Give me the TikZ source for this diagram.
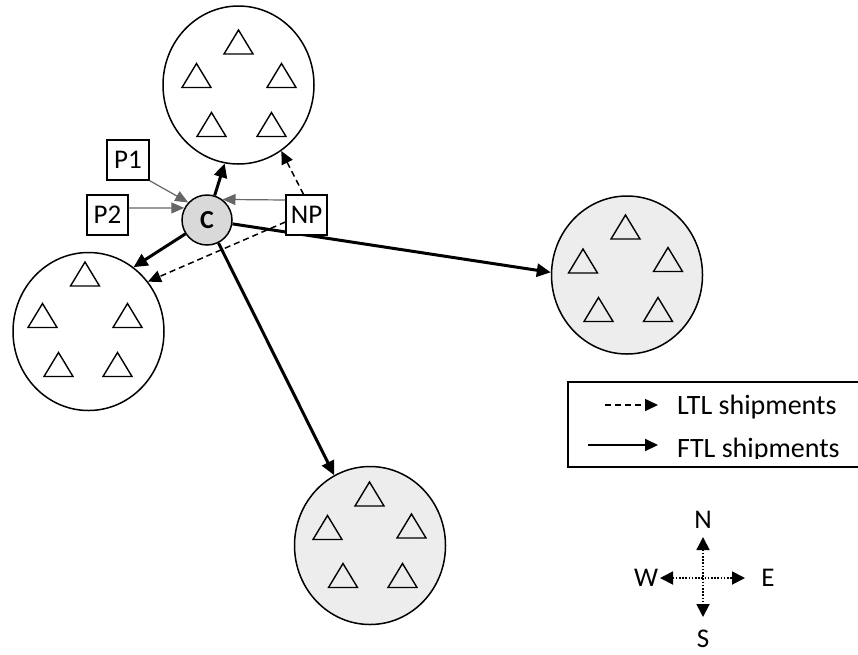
\documentclass[tikz,border=0pt]{standalone}
\usepackage{fontspec}
\setmainfont{Carlito}
\usetikzlibrary{arrows.meta,shapes.geometric}
\newcommand\mytri[2]{\draw[trishape, shift={(#1,#2)}] (-14.5,12) -- (0,-12) -- (14.5,12) -- cycle;}
\begin{document}
\begin{tikzpicture}[x=1pt,y=-1pt,
  cluster/.style={ellipse, draw, line width=1.5pt, minimum width=151pt, minimum height=158pt, inner sep=0pt},
  plainclus/.style={cluster, fill=white},
  shadedclus/.style={cluster, fill=black!7},
  trishape/.style={line width=1.4pt, line join=miter},
  txt/.style={font=\fontsize{27}{32}\selectfont, inner sep=0pt},
  labbox/.style={draw, line width=1.3pt, fill=white, font=\fontsize{27}{32}\selectfont, minimum width=41pt, minimum height=40pt, inner sep=0pt},
  ftl/.style={line width=3pt, -{Triangle[length=14pt,width=13pt]}},
  ltl/.style={line width=1.5pt, dash pattern=on 6pt off 4pt, -{Triangle[length=13pt,width=12pt]}},
  feed/.style={line width=1.2pt, draw=black!60, -{Triangle[length=13pt,width=11pt]}, color=black!60},
  compass/.style={line width=1.8pt, dash pattern=on 1.6pt off 1.6pt, {Triangle[length=13pt,width=13pt]}-{Triangle[length=13pt,width=13pt]}}
]
\clip (0,0) rectangle (858,654);
\fill[white] (0,0) rectangle (858,654);

% clusters
\node[plainclus] (nclus) at (238.5,85) {};
\node[plainclus] (wclus) at (88.5,331.5) {};
\node[shadedclus] (eclus) at (627,275) {};
\node[shadedclus] (sclus) at (370,545.5) {};

% triangles
\mytri{238.5}{42}\mytri{196.5}{75.5}\mytri{281.5}{75.5}\mytri{211.5}{124.5}\mytri{271.5}{124.5}
\mytri{85}{274}\mytri{42.5}{315.5}\mytri{127.5}{315.5}\mytri{58.5}{364.5}\mytri{117.5}{364.5}
\mytri{625.5}{227}\mytri{583}{261}\mytri{668}{259.5}\mytri{598.5}{309.5}\mytri{658}{309.5}
\mytri{369.5}{494}\mytri{327.5}{527.5}\mytri{411.5}{526}\mytri{343}{575.5}\mytri{402.5}{575.5}

% center
\node[circle, draw, line width=1.5pt, fill=black!15, minimum size=50pt, inner sep=0pt,
      font=\bfseries\fontsize{26}{30}\selectfont] (C) at (207,220) {C};
\node[labbox, minimum width=42pt] (P1) at (128,160) {P1};
\node[labbox] (P2) at (107.5,215) {P2};

\draw[ftl] (C) -- (eclus.178);
\node[labbox] (NP) at (306.5,215) {NP};

\draw[ftl] (C) -- (nclus.-100);
\draw[ftl] (C) -- (wclus.55);
\draw[ftl] (C) -- (sclus.117);

\draw[feed] (P1.south east) -- (C.137);
\draw[feed] ([yshift=7pt]P2.east) -- (C.152);
\draw[feed] ([yshift=15pt]NP.west) -- (C.53);

\draw[ltl] ([xshift=-3pt]NP.north) -- (nclus.-57);
\draw[ltl] ([yshift=-7pt]NP.west) -- (wclus.40);

% legend
\node[draw, line width=1.5pt, minimum width=292pt, minimum height=85pt, inner sep=0pt] (leg) at (714,424.5) {};
\coordinate (l1a) at (605,405); \coordinate (l1b) at (658,405);
\draw[ltl] (l1a) -- (l1b);
\node[txt, font=\fontsize{28}{32}\selectfont, anchor=base west] (l1t) at (677,414) {LTL shipments};
\coordinate (l2a) at (588,445); \coordinate (l2b) at (658,445);
\draw[line width=2pt, -{Triangle[length=13pt,width=12pt]}] (l2a) -- (l2b);
\begin{scope}
  \clip ([yshift=9.5pt]leg.south west) rectangle (leg.north east);
  \node[txt, font=\fontsize{28}{32}\selectfont, anchor=base west] (l2t) at (677,457) {FTL shipments};
\end{scope}

% compass
\node[txt, anchor=base] (cN) at (703,528) {N};
\node[txt, anchor=base] (cS) at (703,647) {S};
\node[txt] (cW) at (646,578) {W};
\node[txt] (cE) at (768,578) {E};
\coordinate (cn) at (703,537); \coordinate (cs) at (703,617);
\coordinate (cw) at (660,578); \coordinate (ce) at (745,578);
\draw[compass] (cn) -- (cs);
\draw[compass] (cw) -- (ce);
\end{tikzpicture}
\end{document}
